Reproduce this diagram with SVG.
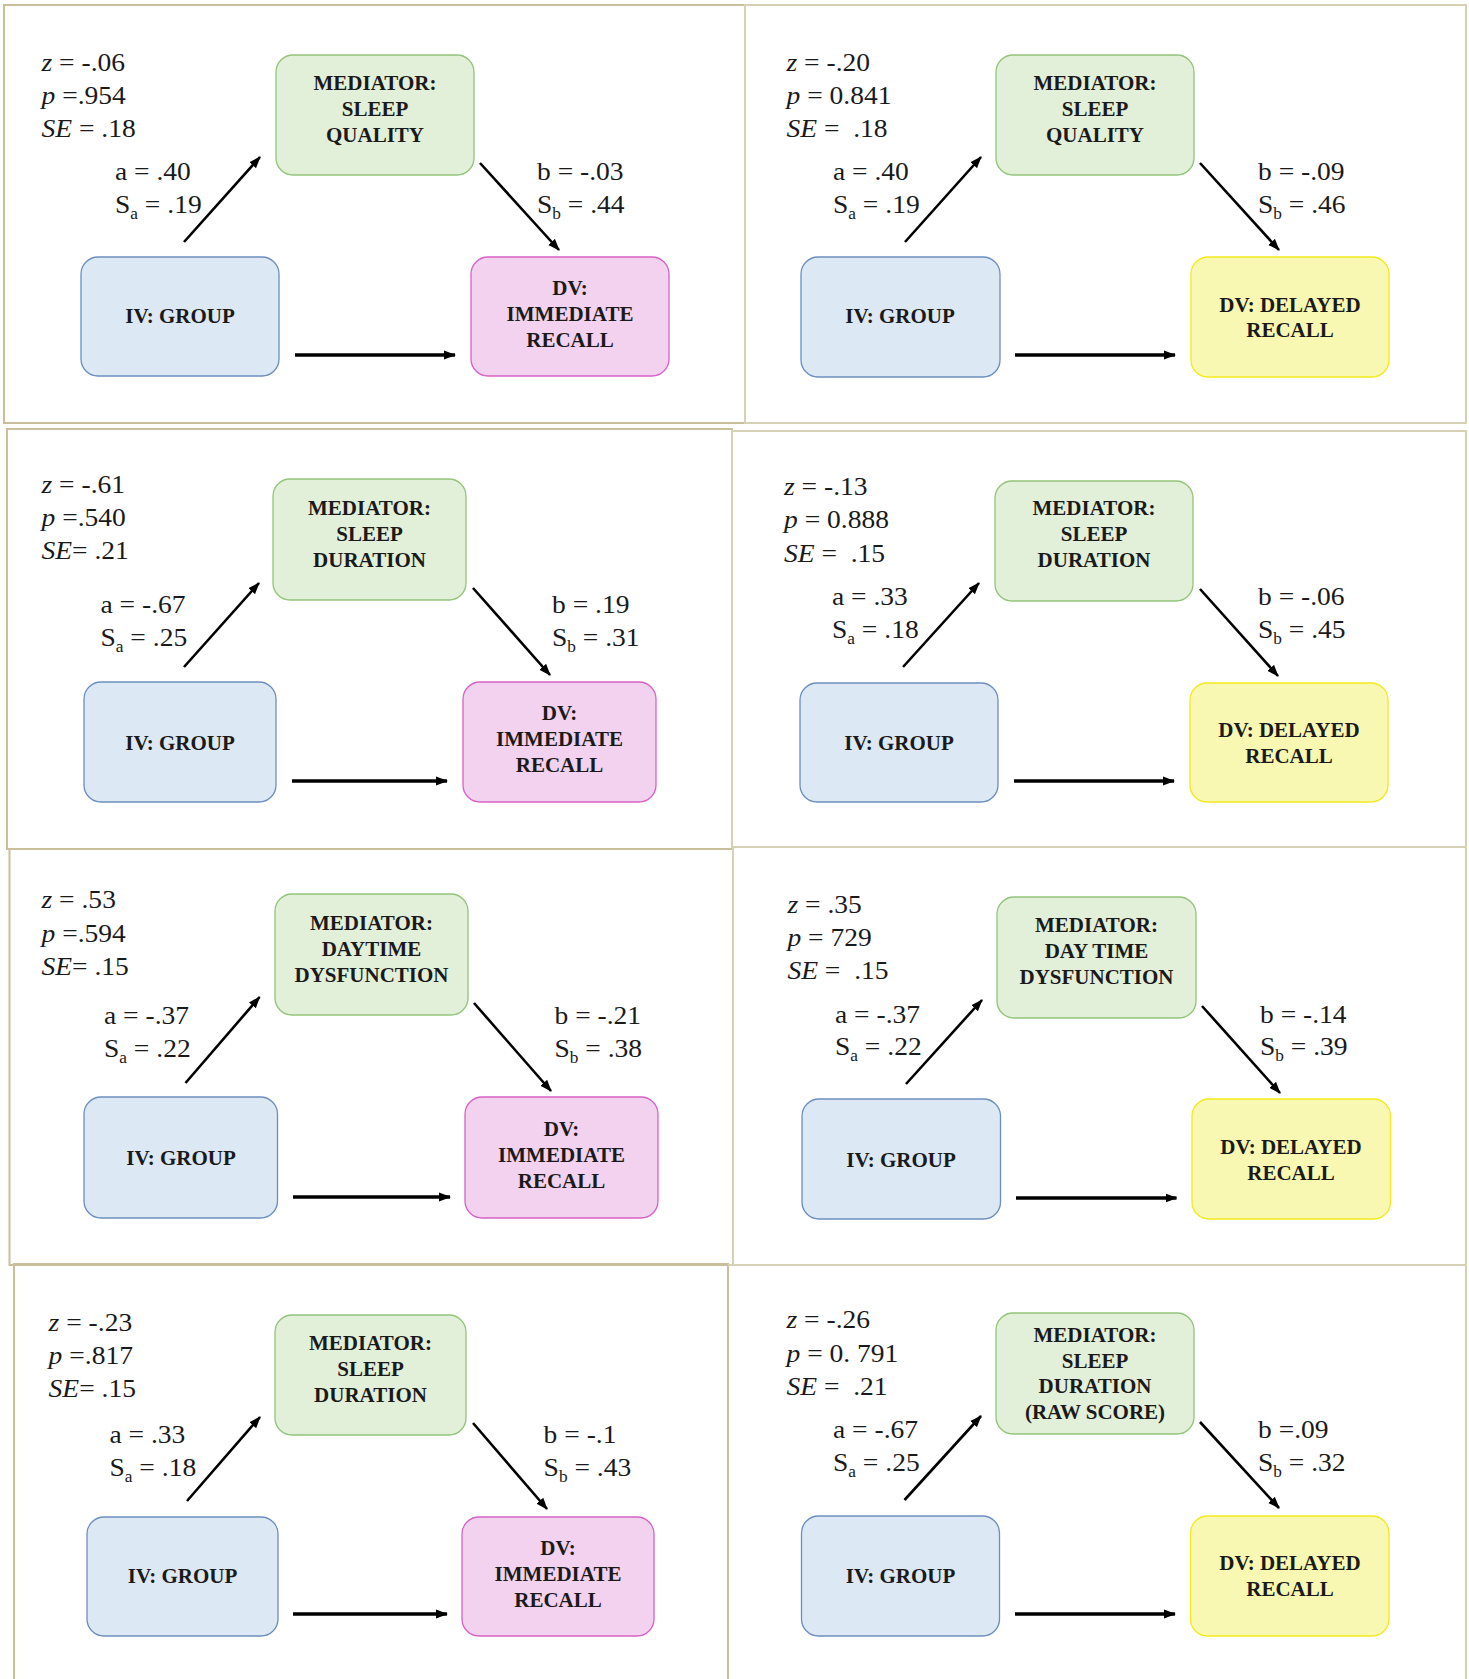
<svg xmlns="http://www.w3.org/2000/svg" width="1469" height="1679" viewBox="0 0 1469 1679">
<style>
.bg{fill:#fff}
.frame{fill:none;stroke:#c9c09b;stroke-width:2}
.frame2{fill:none;stroke:#d6d0b5;stroke-width:2}
.med{fill:#e2efd9;stroke:#92c47a;stroke-width:1.3}
.iv{fill:#dde8f5;stroke:#6c8ebf;stroke-width:1.3}
.dvi{fill:#f2d2ee;stroke:#d662c6;stroke-width:1.3}
.dvd{fill:#f8f8b2;stroke:#f2ea1c;stroke-width:1.3}
.bt{font-family:"Liberation Serif","Times New Roman",serif;font-weight:bold;font-size:21px;text-anchor:middle;fill:#1a1a1a}
.st{font-family:"Liberation Serif","Times New Roman",serif;font-size:25.5px;fill:#1a1a1a;white-space:pre}
.i{font-style:italic}
.sub{font-size:16px}
.diag{stroke:#000;stroke-width:2.6;fill:none;marker-end:url(#ah)}
.hor{stroke:#000;stroke-width:3.5;fill:none;marker-end:url(#ah)}
</style>
<defs>
<marker id="ah" markerUnits="userSpaceOnUse" markerWidth="12" markerHeight="10" viewBox="0 0 12 10" refX="11" refY="5" orient="auto"><path d="M0,0.5 L12,5 L0,9.5z" fill="#000"/></marker>
</defs>
<rect class="bg" x="0" y="0" width="1469" height="1679"/>

<g id="frames">
<rect class="frame" x="4" y="5" width="741" height="418"/>
<rect class="frame2" x="745" y="5" width="721" height="418"/>
<rect class="frame" x="7" y="429" width="725" height="420"/>
<rect class="frame2" x="732" y="431" width="734" height="416"/>
<rect class="frame" x="9.5" y="849" width="723.5" height="416"/>
<rect class="frame2" x="733" y="847" width="733" height="418"/>
<polyline class="frame" points="14,1679 14,1264 728,1264 728,1679"/>
<polyline class="frame2" points="728,1265 1466,1265 1466,1679"/>
</g>

<!-- Panel 1 -->
<g id="p1">
<g id="p1-mediator"><rect class="med" x="276" y="55" width="198" height="120" rx="17"/>
<text class="bt"><tspan x="375" y="90">MEDIATOR:</tspan><tspan x="375" y="116">SLEEP</tspan><tspan x="375" y="142">QUALITY</tspan></text></g>
<g id="p1-iv"><rect class="iv" x="81" y="257" width="198" height="119" rx="17"/>
<text class="bt" x="180" y="323">IV: GROUP</text></g>
<g id="p1-dv"><rect class="dvi" x="471" y="257" width="198" height="119" rx="17"/>
<text class="bt"><tspan x="570" y="295">DV:</tspan><tspan x="570" y="321">IMMEDIATE</tspan><tspan x="570" y="347">RECALL</tspan></text></g>
<g id="p1-stats">
<text class="st" transform="matrix(1.08 0 0 1 41.5 71)"><tspan class="i">z</tspan> = -.06</text>
<text class="st" transform="matrix(1.08 0 0 1 41.5 104)"><tspan class="i">p</tspan> =.954</text>
<text class="st" transform="matrix(1.08 0 0 1 41.5 137)"><tspan class="i">SE</tspan> = .18</text>
<text class="st" transform="matrix(1.08 0 0 1 115 180)">a = .40</text>
<text class="st" transform="matrix(1.08 0 0 1 115 213)">S<tspan class="sub" dy="6">a</tspan><tspan dy="-6"> = .19</tspan></text>
<text class="st" transform="matrix(1.08 0 0 1 537 180)">b = -.03</text>
<text class="st" transform="matrix(1.08 0 0 1 537 213)">S<tspan class="sub" dy="6">b</tspan><tspan dy="-6"> = .44</tspan></text>
</g>
</g>

<!-- Panel 2 -->
<g id="p2">
<g id="p2-mediator"><rect class="med" x="996" y="55" width="198" height="120" rx="17"/>
<text class="bt"><tspan x="1095" y="90">MEDIATOR:</tspan><tspan x="1095" y="116">SLEEP</tspan><tspan x="1095" y="142">QUALITY</tspan></text></g>
<g id="p2-iv"><rect class="iv" x="801" y="257" width="199" height="120" rx="17"/>
<text class="bt" x="900" y="323">IV: GROUP</text></g>
<g id="p2-dv"><rect class="dvd" x="1191" y="257" width="198" height="120" rx="17"/>
<text class="bt"><tspan x="1290" y="312">DV: DELAYED</tspan><tspan x="1290" y="337">RECALL</tspan></text></g>
<g id="p2-stats">
<text class="st" transform="matrix(1.08 0 0 1 786.5 71)"><tspan class="i">z</tspan> = -.20</text>
<text class="st" transform="matrix(1.08 0 0 1 786.5 104)"><tspan class="i">p</tspan> = 0.841</text>
<text class="st" transform="matrix(1.08 0 0 1 786.5 137)"><tspan class="i">SE</tspan> =  .18</text>
<text class="st" transform="matrix(1.08 0 0 1 833 180)">a = .40</text>
<text class="st" transform="matrix(1.08 0 0 1 833 213)">S<tspan class="sub" dy="6">a</tspan><tspan dy="-6"> = .19</tspan></text>
<text class="st" transform="matrix(1.08 0 0 1 1258 180)">b = -.09</text>
<text class="st" transform="matrix(1.08 0 0 1 1258 213)">S<tspan class="sub" dy="6">b</tspan><tspan dy="-6"> = .46</tspan></text>
</g>
</g>

<!-- Panel 3 -->
<g id="p3">
<g id="p3-mediator"><rect class="med" x="273" y="479" width="193" height="121" rx="17"/>
<text class="bt"><tspan x="369.5" y="515">MEDIATOR:</tspan><tspan x="369.5" y="541">SLEEP</tspan><tspan x="369.5" y="567">DURATION</tspan></text></g>
<g id="p3-iv"><rect class="iv" x="84" y="682" width="192" height="120" rx="17"/>
<text class="bt" x="180" y="750">IV: GROUP</text></g>
<g id="p3-dv"><rect class="dvi" x="463" y="682" width="193" height="120" rx="17"/>
<text class="bt"><tspan x="559.5" y="720">DV:</tspan><tspan x="559.5" y="746">IMMEDIATE</tspan><tspan x="559.5" y="772">RECALL</tspan></text></g>
<g id="p3-stats">
<text class="st" transform="matrix(1.08 0 0 1 41.5 493)"><tspan class="i">z</tspan> = -.61</text>
<text class="st" transform="matrix(1.08 0 0 1 41.5 526)"><tspan class="i">p</tspan> =.540</text>
<text class="st" transform="matrix(1.08 0 0 1 41.5 559)"><tspan class="i">SE</tspan>= .21</text>
<text class="st" transform="matrix(1.08 0 0 1 100.5 613)">a = -.67</text>
<text class="st" transform="matrix(1.08 0 0 1 100.5 646)">S<tspan class="sub" dy="6">a</tspan><tspan dy="-6"> = .25</tspan></text>
<text class="st" transform="matrix(1.08 0 0 1 552 613)">b = .19</text>
<text class="st" transform="matrix(1.08 0 0 1 552 646)">S<tspan class="sub" dy="6">b</tspan><tspan dy="-6"> = .31</tspan></text>
</g>
</g>

<!-- Panel 4 -->
<g id="p4">
<g id="p4-mediator"><rect class="med" x="995" y="481" width="198" height="120" rx="17"/>
<text class="bt"><tspan x="1094" y="515">MEDIATOR:</tspan><tspan x="1094" y="541">SLEEP</tspan><tspan x="1094" y="567">DURATION</tspan></text></g>
<g id="p4-iv"><rect class="iv" x="800" y="683" width="198" height="119" rx="17"/>
<text class="bt" x="899" y="750">IV: GROUP</text></g>
<g id="p4-dv"><rect class="dvd" x="1190" y="683" width="198" height="119" rx="17"/>
<text class="bt"><tspan x="1289" y="737">DV: DELAYED</tspan><tspan x="1289" y="763">RECALL</tspan></text></g>
<g id="p4-stats">
<text class="st" transform="matrix(1.08 0 0 1 784 495)"><tspan class="i">z</tspan> = -.13</text>
<text class="st" transform="matrix(1.08 0 0 1 784 528)"><tspan class="i">p</tspan> = 0.888</text>
<text class="st" transform="matrix(1.08 0 0 1 784 562)"><tspan class="i">SE</tspan> =  .15</text>
<text class="st" transform="matrix(1.08 0 0 1 832 605)">a = .33</text>
<text class="st" transform="matrix(1.08 0 0 1 832 638)">S<tspan class="sub" dy="6">a</tspan><tspan dy="-6"> = .18</tspan></text>
<text class="st" transform="matrix(1.08 0 0 1 1258 605)">b = -.06</text>
<text class="st" transform="matrix(1.08 0 0 1 1258 638)">S<tspan class="sub" dy="6">b</tspan><tspan dy="-6"> = .45</tspan></text>
</g>
</g>

<!-- Panel 5 -->
<g id="p5">
<g id="p5-mediator"><rect class="med" x="275" y="894" width="193" height="121" rx="17"/>
<text class="bt"><tspan x="371.5" y="930">MEDIATOR:</tspan><tspan x="371.5" y="956">DAYTIME</tspan><tspan x="371.5" y="982">DYSFUNCTION</tspan></text></g>
<g id="p5-iv"><rect class="iv" x="84" y="1097" width="193.5" height="121" rx="17"/>
<text class="bt" x="181" y="1165">IV: GROUP</text></g>
<g id="p5-dv"><rect class="dvi" x="465" y="1097" width="193" height="121" rx="17"/>
<text class="bt"><tspan x="561.5" y="1136">DV:</tspan><tspan x="561.5" y="1162">IMMEDIATE</tspan><tspan x="561.5" y="1188">RECALL</tspan></text></g>
<g id="p5-stats">
<text class="st" transform="matrix(1.08 0 0 1 41.5 908)"><tspan class="i">z</tspan> = .53</text>
<text class="st" transform="matrix(1.08 0 0 1 41.5 942)"><tspan class="i">p</tspan> =.594</text>
<text class="st" transform="matrix(1.08 0 0 1 41.5 975)"><tspan class="i">SE</tspan>= .15</text>
<text class="st" transform="matrix(1.08 0 0 1 104 1024)">a = -.37</text>
<text class="st" transform="matrix(1.08 0 0 1 104 1057)">S<tspan class="sub" dy="6">a</tspan><tspan dy="-6"> = .22</tspan></text>
<text class="st" transform="matrix(1.08 0 0 1 554.5 1024)">b = -.21</text>
<text class="st" transform="matrix(1.08 0 0 1 554.5 1057)">S<tspan class="sub" dy="6">b</tspan><tspan dy="-6"> = .38</tspan></text>
</g>
</g>

<!-- Panel 6 -->
<g id="p6">
<g id="p6-mediator"><rect class="med" x="997" y="897" width="199" height="121" rx="17"/>
<text class="bt"><tspan x="1096.5" y="932">MEDIATOR:</tspan><tspan x="1096.5" y="958">DAY TIME</tspan><tspan x="1096.5" y="984">DYSFUNCTION</tspan></text></g>
<g id="p6-iv"><rect class="iv" x="802" y="1099" width="198.5" height="120" rx="17"/>
<text class="bt" x="901" y="1167">IV: GROUP</text></g>
<g id="p6-dv"><rect class="dvd" x="1192" y="1099" width="198.5" height="120" rx="17"/>
<text class="bt"><tspan x="1291" y="1154">DV: DELAYED</tspan><tspan x="1291" y="1180">RECALL</tspan></text></g>
<g id="p6-stats">
<text class="st" transform="matrix(1.08 0 0 1 787.4 913)"><tspan class="i">z</tspan> = .35</text>
<text class="st" transform="matrix(1.08 0 0 1 787.4 946)"><tspan class="i">p</tspan> = 729</text>
<text class="st" transform="matrix(1.08 0 0 1 787.4 979)"><tspan class="i">SE</tspan> =  .15</text>
<text class="st" transform="matrix(1.08 0 0 1 835 1023)">a = -.37</text>
<text class="st" transform="matrix(1.08 0 0 1 835 1055)">S<tspan class="sub" dy="6">a</tspan><tspan dy="-6"> = .22</tspan></text>
<text class="st" transform="matrix(1.08 0 0 1 1260 1023)">b = -.14</text>
<text class="st" transform="matrix(1.08 0 0 1 1260 1055)">S<tspan class="sub" dy="6">b</tspan><tspan dy="-6"> = .39</tspan></text>
</g>
</g>

<!-- Panel 7 -->
<g id="p7">
<g id="p7-mediator"><rect class="med" x="275" y="1315" width="191" height="120" rx="17"/>
<text class="bt"><tspan x="370.5" y="1350">MEDIATOR:</tspan><tspan x="370.5" y="1376">SLEEP</tspan><tspan x="370.5" y="1402">DURATION</tspan></text></g>
<g id="p7-iv"><rect class="iv" x="87" y="1517" width="191" height="119" rx="17"/>
<text class="bt" x="182.5" y="1583">IV: GROUP</text></g>
<g id="p7-dv"><rect class="dvi" x="462" y="1517" width="192" height="119" rx="17"/>
<text class="bt"><tspan x="558" y="1555">DV:</tspan><tspan x="558" y="1581">IMMEDIATE</tspan><tspan x="558" y="1607">RECALL</tspan></text></g>
<g id="p7-stats">
<text class="st" transform="matrix(1.08 0 0 1 48.6 1331)"><tspan class="i">z</tspan> = -.23</text>
<text class="st" transform="matrix(1.08 0 0 1 48.6 1364)"><tspan class="i">p</tspan> =.817</text>
<text class="st" transform="matrix(1.08 0 0 1 48.6 1397)"><tspan class="i">SE</tspan>= .15</text>
<text class="st" transform="matrix(1.08 0 0 1 109.5 1443)">a = .33</text>
<text class="st" transform="matrix(1.08 0 0 1 109.5 1476)">S<tspan class="sub" dy="6">a</tspan><tspan dy="-6"> = .18</tspan></text>
<text class="st" transform="matrix(1.08 0 0 1 543.6 1443)">b = -.1</text>
<text class="st" transform="matrix(1.08 0 0 1 543.6 1476)">S<tspan class="sub" dy="6">b</tspan><tspan dy="-6"> = .43</tspan></text>
</g>
</g>

<!-- Panel 8 -->
<g id="p8">
<g id="p8-mediator"><rect class="med" x="996" y="1313" width="198" height="121" rx="17"/>
<text class="bt"><tspan x="1095" y="1342">MEDIATOR:</tspan><tspan x="1095" y="1368">SLEEP</tspan><tspan x="1095" y="1393">DURATION</tspan><tspan x="1095" y="1419">(RAW SCORE)</tspan></text></g>
<g id="p8-iv"><rect class="iv" x="801.5" y="1516" width="198" height="120" rx="17"/>
<text class="bt" x="900.5" y="1583">IV: GROUP</text></g>
<g id="p8-dv"><rect class="dvd" x="1190.5" y="1516" width="198.5" height="120" rx="17"/>
<text class="bt"><tspan x="1290" y="1570">DV: DELAYED</tspan><tspan x="1290" y="1596">RECALL</tspan></text></g>
<g id="p8-stats">
<text class="st" transform="matrix(1.08 0 0 1 786.5 1328)"><tspan class="i">z</tspan> = -.26</text>
<text class="st" transform="matrix(1.08 0 0 1 786.5 1362)"><tspan class="i">p</tspan> = 0. 791</text>
<text class="st" transform="matrix(1.08 0 0 1 786.5 1395)"><tspan class="i">SE</tspan> =  .21</text>
<text class="st" transform="matrix(1.08 0 0 1 833 1438)">a = -.67</text>
<text class="st" transform="matrix(1.08 0 0 1 833 1471)">S<tspan class="sub" dy="6">a</tspan><tspan dy="-6"> = .25</tspan></text>
<text class="st" transform="matrix(1.08 0 0 1 1258 1438)">b =.09</text>
<text class="st" transform="matrix(1.08 0 0 1 1258 1471)">S<tspan class="sub" dy="6">b</tspan><tspan dy="-6"> = .32</tspan></text>
</g>
</g>

<g id="connectors">
<line class="diag" x1="184" y1="242" x2="260" y2="157"/>
<line class="diag" x1="480" y1="163" x2="559" y2="250"/>
<line class="hor" x1="295" y1="355" x2="455" y2="355"/>

<line class="diag" x1="905" y1="242" x2="981" y2="157"/>
<line class="diag" x1="1200" y1="163" x2="1279" y2="250"/>
<line class="hor" x1="1015" y1="355" x2="1175" y2="355"/>

<line class="diag" x1="184" y1="667" x2="259" y2="583"/>
<line class="diag" x1="473" y1="588" x2="550" y2="675"/>
<line class="hor" x1="292" y1="781" x2="447" y2="781"/>

<line class="diag" x1="903" y1="667" x2="979" y2="583"/>
<line class="diag" x1="1200" y1="589" x2="1278" y2="676"/>
<line class="hor" x1="1014" y1="781" x2="1174" y2="781"/>

<line class="diag" x1="185.5" y1="1083" x2="259.6" y2="997"/>
<line class="diag" x1="474" y1="1003" x2="551" y2="1091"/>
<line class="hor" x1="293" y1="1197" x2="450" y2="1197"/>

<line class="diag" x1="906" y1="1084" x2="982" y2="1000"/>
<line class="diag" x1="1202" y1="1006" x2="1280" y2="1093"/>
<line class="hor" x1="1016" y1="1198" x2="1176.5" y2="1198"/>

<line class="diag" x1="187" y1="1501" x2="260" y2="1417"/>
<line class="diag" x1="473" y1="1423" x2="547" y2="1509"/>
<line class="hor" x1="293" y1="1614" x2="447" y2="1614"/>

<line class="diag" x1="904.5" y1="1500" x2="981" y2="1416"/>
<line class="diag" x1="1200" y1="1422" x2="1279" y2="1508"/>
<line class="hor" x1="1015" y1="1614" x2="1175" y2="1614"/>
</g>
</svg>
